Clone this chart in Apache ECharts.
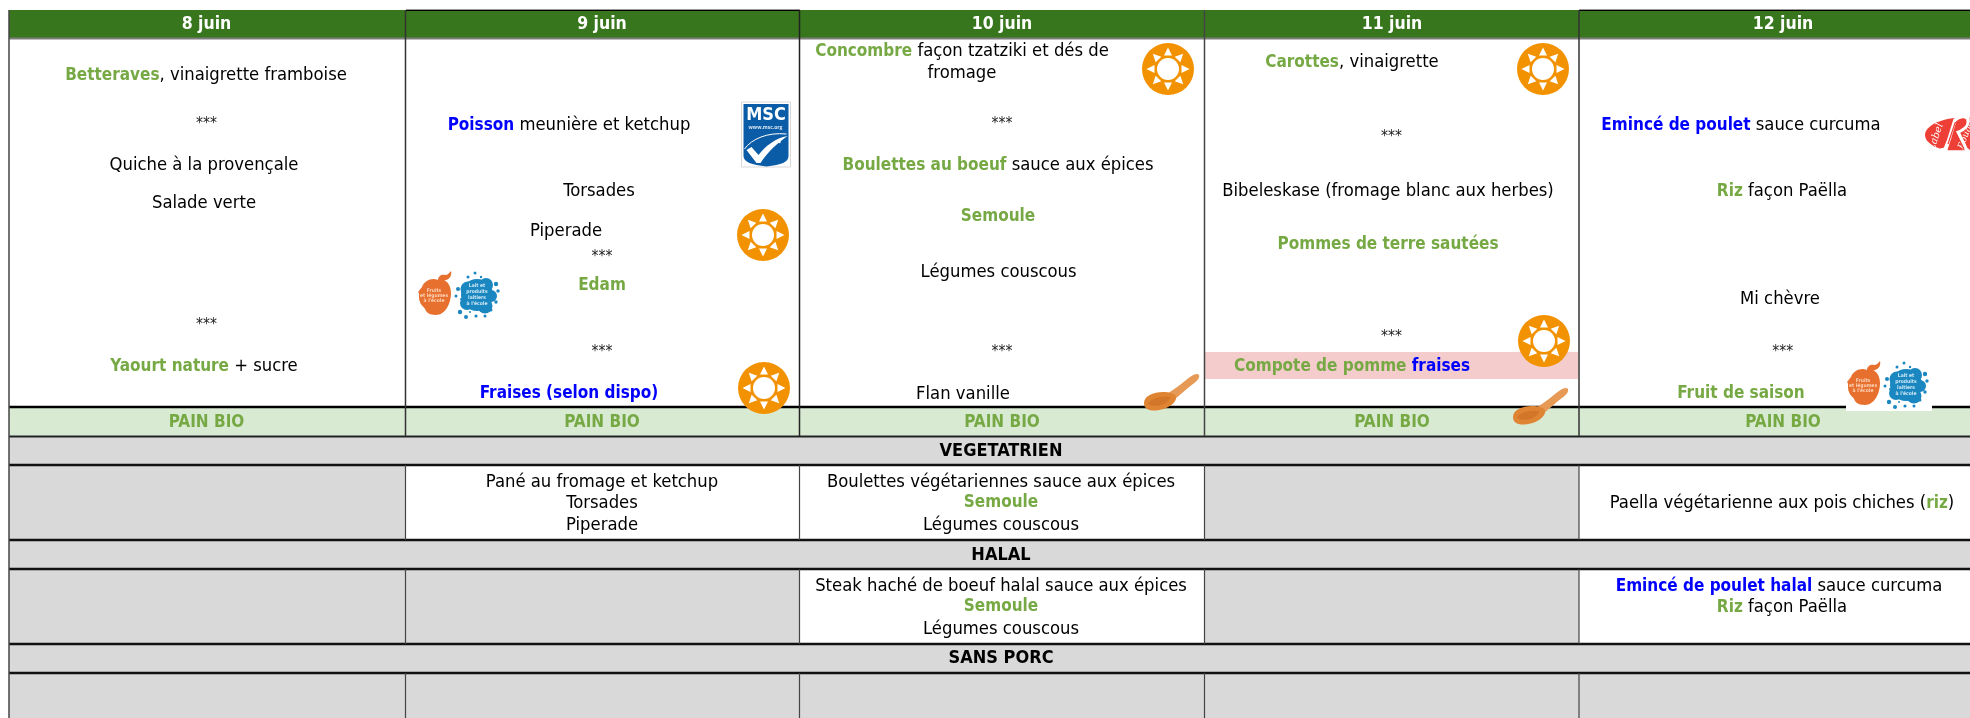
<!DOCTYPE html>
<html lang="fr"><head><meta charset="utf-8">
<style>html,body{margin:0;padding:0;background:#fff}#c{width:1970px;height:718px}</style>
<script src="https://cdn.jsdelivr.net/npm/echarts@6/dist/echarts.min.js"></script>
</head><body><div id="c"></div>
<script>
// ---- content ----
const days = ['8 juin','9 juin','10 juin','11 juin','12 juin'];
const breadLabel = 'PAIN BIO';
const sectionTitles = ['VEGETATRIEN','HALAL','SANS PORC'];
const menuDay8 = ['{g|Betteraves}, vinaigrette framboise','{s|***}','Quiche à la provençale','Salade verte','{s|***}','{g|Yaourt nature} + sucre'];
const menuDay9 = ['{b|Poisson} meunière et ketchup','Torsades','Piperade','{s|***}','{g|Edam}','{s|***}','{b|Fraises (selon dispo)}'];
const menuDay10 = ['{g|Concombre} façon tzatziki et dés de','fromage','{s|***}','{g|Boulettes au boeuf} sauce aux épices','{g|Semoule}','Légumes couscous','{s|***}','Flan vanille'];
const menuDay11 = ['{g|Carottes}, vinaigrette','{s|***}','Bibeleskase (fromage blanc aux herbes)','{g|Pommes de terre sautées}','{s|***}','{g|Compote de pomme} {b|fraises}'];
const menuDay12 = ['{b|Emincé de poulet} sauce curcuma','{g|Riz} façon Paëlla','Mi chèvre','{s|***}','{g|Fruit de saison}'];
const vegeDay9 = ['Pané au fromage et ketchup','Torsades','Piperade'];
const vegeDay10 = ['Boulettes végétariennes sauce aux épices','{g|Semoule}','Légumes couscous'];
const vegeDay12 = ['Paella végétarienne aux pois chiches ({g|riz})'];
const halalDay10 = ['Steak haché de boeuf halal sauce aux épices','{g|Semoule}','Légumes couscous'];
const halalDay12 = ['{b|Emincé de poulet halal} sauce curcuma','{g|Riz} façon Paëlla'];

// ---- layout (page pixels, fed to the axes) ----
const colMid = [206.5,602,1002,1392,1783];
const posDay8 = [[206,75],[206.5,124],[204,165],[204,203],[206.5,325],[204,366]];
const posDay9 = [[569,125],[599,191],[566,231],[602,257],[602,286],[602,352],[569,394]];
const posDay10 = [[962,51],[962,73],[1002,124],[998,165],[998,217],[998.6,272],[1002,352],[963,394]];
const posDay11 = [[1352,62],[1391.4,137],[1388,191],[1388,245],[1391.4,337],[1352,366]];
const posDay12 = [[1741,125],[1782,191],[1780,299],[1782.7,352],[1741,394]];
const posVege9 = [[602,482],[602,503],[602,525]];
const posVege10 = [[1001,482],[1001,503],[1001,525]];
const posVege12 = [[1782,503]];
const posHalal10 = [[1001,586],[1001,607],[1001,629]];
const posHalal12 = [[1779,586],[1782,607]];
const suns = [[763,235],[764,388],[1168,69],[1543,69],[1544,341]];
const spoons = [[1144,373],[1513,387]];
const schoolLogos = [[418,271],[1847,361]];

const GREEN_T='#76a944', BLUE='#0000ff';
const FONT='"DejaVu Sans Condensed","DejaVu Sans"';
const SIZE=18.3, BOLD=17;
function zip(lines,pos){return lines.map((t,i)=>({value:[pos[i][0],pos[i][1]],text:t}));}
const labels=[].concat(
  zip(menuDay8,posDay8),zip(menuDay9,posDay9),zip(menuDay10,posDay10),zip(menuDay11,posDay11),zip(menuDay12,posDay12),
  zip(vegeDay9,posVege9),zip(vegeDay10,posVege10),zip(vegeDay12,posVege12),zip(halalDay10,posHalal10),zip(halalDay12,posHalal12));
const heads=days.map((d,i)=>({value:[colMid[i],24],text:d}));
const breads=days.map((d,i)=>({value:[colMid[i],423],text:breadLabel}));
const sectionY=[451,555,658];
const sections=sectionTitles.map((s,i)=>({value:[1001,sectionY[i]],text:s}));

const G='#d9d9d9';
const rects=[
 [9,10,1975,38,'#38761d'],
 [9,408,1975,437,'#d9ead3'],
 [9,437,1975,465,G],[9,465,406,540,G],[1205,465,1579,540,G],
 [9,540,1975,569,G],[9,569,800,644,G],[1205,569,1579,644,G],
 [9,644,1975,673,G],[9,673,1975,718,G],
 [1205,352,1578,379,'#f4cccc']
];
const rules=[
 [9,38.5,1975,38.5,2,'#7d7d7d'],
 [406,9.5,800,9.5,1,'#9a9a9a'],[1579,9.5,1975,9.5,1,'#9a9a9a'],
 [406,10.5,800,10.5,1,'#000'],[1579,10.5,1975,10.5,1,'#000'],
 [9,407,1975,407,2.5,'#000'],[9,436.5,1975,436.5,2,'#222'],
 [9,465,1975,465,2.5,'#111'],[9,540,1975,540,2.5,'#111'],[9,569,1975,569,2.5,'#111'],
 [9,644,1975,644,2.5,'#111'],[9,673,1975,673,2.5,'#111'],
 [9,10,9,718,1.5,'#444'],
 [405.5,10,405.5,436,1.5,'#333'],[799.5,10,799.5,436,1.5,'#222'],[1204.5,10,1204.5,436,1.5,'#444'],[1579,10,1579,436,1.5,'#333'],
 [405.5,465,405.5,540,1.2,'#444'],[799.5,465,799.5,540,1.2,'#444'],[1204.5,465,1204.5,540,1.2,'#444'],[1579,465,1579,540,1.2,'#444'],
 [405.5,569,405.5,644,1.2,'#444'],[799.5,569,799.5,644,1.2,'#444'],[1204.5,569,1204.5,644,1.2,'#444'],[1579,569,1579,644,1.2,'#444'],
 [405.5,673,405.5,718,1.2,'#444'],[799.5,673,799.5,718,1.2,'#444'],[1204.5,673,1204.5,718,1.2,'#444'],[1579,673,1579,718,1.2,'#444']
];

function sunShapes(){
  const kids=[{type:'circle',shape:{cx:0,cy:0,r:26},style:{fill:'#f39200'}},{type:'circle',shape:{cx:0,cy:0,r:11},style:{fill:'#fff'}}];
  for(let k=0;k<8;k++){const a=k*Math.PI/4,c=Math.cos(a),s=Math.sin(a);
    kids.push({type:'polygon',shape:{points:[[21.5*c,21.5*s],[13.5*c-4*s,13.5*s+4*c],[13.5*c+4*s,13.5*s-4*c]]},style:{fill:'#fff'}});}
  return kids;
}
function spoonShapes(){
  return [
   {type:'path',shape:{pathData:'M20 22 C30 18 40 8 46 4 C50 1 54 0 55 2 C56 5 53 8 49 11 C42 16 34 24 26 30 Z'},style:{fill:'#e69a55'}},
   {type:'path',shape:{pathData:'M0 30 C0 23 9 19 19 19 C27 19 33 21 32 26 C30 32 21 37 12 37.5 C4 38 0 35 0 30 Z'},style:{fill:'#df8432'}},
   {type:'path',shape:{pathData:'M4 31 C6 26 15 23 26 24 C25 30 14 36 4 31 Z'},style:{fill:'#d2762a'}}
  ];
}
function appleShapes(){
  return [
   {type:'path',shape:{pathData:'M4 16 C6 10 14 6 20 9 C24 7 33 10 33 22 C33 33 27 44 18 44 C14 44 10 43 8 40 C7 36 3 35 2 31 C0 27 2 22 0 21 Z'},style:{fill:'#e8702e'}},
   {type:'path',shape:{pathData:'M20 9 C20 5 24 3 27 4 C30 4 31 2 33 0 C34 4 32 8 28 9 C25 10 24 11 22 11 Z'},style:{fill:'#e8702e'}},
   {type:'text',style:{x:16,y:25,text:"Fruits\net légumes\nà l'école",font:'bold 5px '+FONT,fill:'#fbd3b8',align:'center',verticalAlign:'middle',lineHeight:5}}
  ];
}
function splashShapes(){
  const dots=[[20,1,1.5],[13,5,1.5],[26,5,1.2],[3,17,2],[1,24,1.5],[6,27,1],[41,12,2.2],[43,19,1.7],[41,30,1.7],[5,40,2.2],[11,45,2],[21,44,1.6],[30,44,1.5],[36,38,1.5],[15,40,1]];
  const blobs=[[22,23,16],[13,17,7.5],[31,13,7],[36,24,6],[30,34,7.5],[12,31,7]];
  const kids=dots.concat(blobs).map(d=>({type:'circle',shape:{cx:d[0],cy:d[1],r:d[2]},style:{fill:'#1b87c1'}}));
  kids.push({type:'text',style:{x:22,y:23,text:"Lait et\nproduits\nlaitiers\nà l'école",font:'bold 5px '+FONT,fill:'#cfe8f5',align:'center',verticalAlign:'middle',lineHeight:6}});
  return kids;
}
function mscShapes(){
  return [
   {type:'rect',shape:{x:0,y:0,width:49,height:65},style:{fill:'#fff',stroke:'#d8d8d8',lineWidth:1}},
   {type:'path',shape:{pathData:'M2 2 L47 2 L47 54 C47 60 40 63 25 64.5 C10 63 2 60 2 54 Z'},style:{fill:'#0b5ca7'}},
   {type:'text',style:{x:24.5,y:13,text:'MSC',font:'bold 18px "DejaVu Sans Condensed","Open Sans"',fill:'#fff',align:'center',verticalAlign:'middle'}},
   {type:'text',style:{x:24,y:26,text:'www.msc.org',font:'bold 5px "Open Sans"',fill:'#dbe7f3',align:'center',verticalAlign:'middle'}},
   {type:'path',shape:{pathData:'M3 47 C10 37 26 30 45 32'},style:{fill:'none',stroke:'#fff',lineWidth:1}},
   {type:'path',shape:{pathData:'M5 48 L10 45 L17 53 C24 44 34 36 46 34 C36 41 26 50 19 61 L15 61 Z'},style:{fill:'#fff'}},
   {type:'circle',shape:{cx:38,cy:40,r:1.2},style:{fill:'#fff'}}
  ];
}
function labelRougeShapes(){
  return [
   {type:'ellipse',shape:{cx:40,cy:19,rx:39,ry:17.5},style:{fill:'#ee3f36'}},
   {type:'text',x:12,y:21,rotation:1.25,style:{x:0,y:0,text:'Label',font:'italic 10px "DejaVu Serif"',fill:'#fff',align:'center',verticalAlign:'middle'}},
   {type:'text',x:42,y:19,rotation:1.2,style:{x:0,y:0,text:'Rouge',font:'italic 9px "DejaVu Serif"',fill:'#fff',align:'center',verticalAlign:'middle'}},
   {type:'path',shape:{pathData:'M4 37 L22 33 L31 4 C35 0 42 -1 44 3 C45 9 40 14 34 16 L42 33 L47 37 M26 21 L20 36 L44 36 M22 36 L6 37'},style:{fill:'none',stroke:'#fff',lineWidth:3.5}},
   {type:'path',shape:{pathData:'M24 28 L31 7 C35 4 41 3 42 6 C42 10 37 13 31 15 L40 33'},style:{fill:'none',stroke:'#ee3f36',lineWidth:1.2}}
  ];
}

function txtSeries(data,font,fill,z){
  return {type:'custom',coordinateSystem:'cartesian2d',z:z,silent:true,data:data.map(d=>d.value),
    encode:{x:0,y:1},
    renderItem:(p,api)=>{const c=api.coord([api.value(0),api.value(1)]);const t=data[p.dataIndex].text;
      return {type:'text',style:{x:c[0],y:c[1],text:t,font:font,fill:fill,align:'center',verticalAlign:'middle',
        rich:{g:{fill:GREEN_T,font:'bold '+BOLD+'px '+FONT,verticalAlign:'bottom'},b:{fill:BLUE,font:'bold '+BOLD+'px '+FONT,verticalAlign:'bottom'},s:{fill:'#222',font:'15.5px '+FONT}}}};}};
}
function iconSeries(data,z,build){
  return {type:'custom',coordinateSystem:'cartesian2d',z:z,silent:true,data:data,encode:{x:0,y:1},
    renderItem:(p,api)=>{const c=api.coord([api.value(0),api.value(1)]);return {type:'group',x:c[0],y:c[1],children:build(p.dataIndex)};}};
}
const option={
  animation:false,backgroundColor:'#fff',
  grid:{left:0,right:0,top:0,bottom:0,containLabel:false},
  xAxis:{type:'value',min:0,max:1970,show:false},
  yAxis:{type:'value',min:0,max:718,inverse:true,show:false},
  series:[
   {type:'custom',coordinateSystem:'cartesian2d',z:1,silent:true,data:rects.map(r=>r.slice(0,4)),encode:{x:[0,2],y:[1,3]},
    renderItem:(p,api)=>{const a=api.coord([api.value(0),api.value(1)]),b=api.coord([api.value(2),api.value(3)]);
      return {type:'rect',shape:{x:a[0],y:a[1],width:b[0]-a[0],height:b[1]-a[1]},style:{fill:rects[p.dataIndex][4]}};}},
   {type:'custom',coordinateSystem:'cartesian2d',z:2,silent:true,data:rules.map(r=>r.slice(0,4)),encode:{x:[0,2],y:[1,3]},
    renderItem:(p,api)=>{const a=api.coord([api.value(0),api.value(1)]),b=api.coord([api.value(2),api.value(3)]);const r=rules[p.dataIndex];
      return {type:'line',shape:{x1:a[0],y1:a[1],x2:b[0],y2:b[1]},style:{stroke:r[5],lineWidth:r[4]}};}},
   txtSeries(heads,'bold 17.5px '+FONT,'#fff',3),
   txtSeries(breads,'bold '+BOLD+'px '+FONT,GREEN_T,3),
   txtSeries(sections,'bold 18px '+FONT,'#000',3),
   txtSeries(labels,SIZE+'px '+FONT,'#000',3),
   iconSeries(suns,4,()=>sunShapes()),
   iconSeries(spoons,4,()=>spoonShapes()),
   iconSeries([[741.5,102]],4,()=>mscShapes()),
   iconSeries([[1924,116]],4,()=>labelRougeShapes()),
   iconSeries([[1846,358]],3.5,()=>[{type:'rect',shape:{x:0,y:0,width:86,height:53},style:{fill:'#fff'}}]),
   iconSeries(schoolLogos,4,()=>appleShapes()),
   iconSeries(schoolLogos.map(l=>[l[0]+37,l[1]+1]),4,()=>splashShapes())
  ]
};
echarts.init(document.getElementById('c'),null,{renderer:'canvas'}).setOption(option);
</script></body></html>
